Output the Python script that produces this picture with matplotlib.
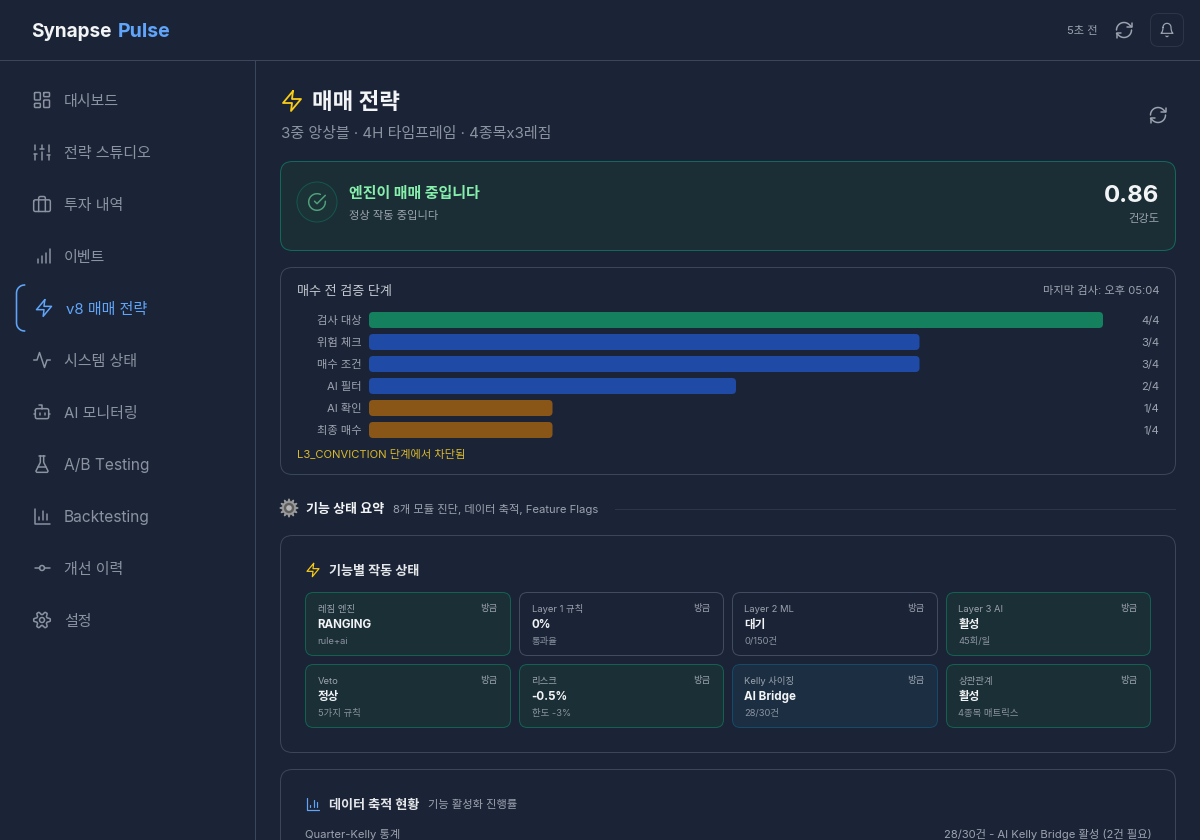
import numpy as np
import matplotlib
matplotlib.use("Agg")
import matplotlib.pyplot as plt
from matplotlib.patches import Circle, FancyBboxPatch, Polygon

plt.rcParams['font.family'] = ['Inter', 'Noto Sans CJK KR', 'DejaVu Sans']
plt.rcParams['text.kerning_factor'] = 6

# colours
BG = "#1b2436"
LINE = "#3a465b"
WHITE = "#f3f4f6"
SOFT = "#c4c8d0"
GRAY = "#9ca3af"
MUTED = "#8b93a1"
YELLOW = "#facc15"
BLUE = "#60a5fa"

# sidebar
nav_labels = ["대시보드", "전략 스튜디오", "투자 내역", "이벤트", "v8 매매 전략", "시스템 상태",
              "AI 모니터링", "A/B Testing", "Backtesting", "개선 이력", "설정"]
nav_icons = ["dash", "sliders", "case", "signal", "zap", "activity",
             "bot", "flask", "chart", "commit", "cog"]
active_nav = 4

# pipeline bars
stage_labels = ["검사 대상", "위험 체크", "매수 조건", "AI 필터", "AI 확인", "최종 매수"]
stage_passed = [4, 3, 3, 2, 1, 1]
stage_total = 4
stage_colors = ["#14805e", "#1f4aa6", "#1f4aa6", "#1f4aa6", "#8a5618", "#8a5618"]

# feature cards
feature_names = ["레짐 엔진", "Layer 1 규칙", "Layer 2 ML", "Layer 3 AI",
                 "Veto", "리스크", "Kelly 사이징", "상관관계"]
feature_values = ["RANGING", "0%", "대기", "활성", "정상", "-0.5%", "AI Bridge", "활성"]
feature_notes = ["rule+ai", "통과율", "0/150건", "45회/일", "5가지 규칙", "한도 -3%", "28/30건", "4종목 매트릭스"]
feature_states = ["ok", "idle", "idle", "ok", "ok", "ok", "info", "ok"]
state_styles = {
    "ok": ("#1b2f36", "#14614f"),
    "idle": ("#1b2436", "#414c61"),
    "info": ("#1b2e42", "#17496a"),
}

fig = plt.figure(figsize=(12, 8.4), dpi=100, facecolor=BG)
canvas = fig.add_axes([0, 0, 1, 1])
canvas.set_xlim(0, 1200)
canvas.set_ylim(840, 0)
canvas.axis("off")

PX = 0.72  # one screen pixel in points
SMALL = 11.25  # page root is 15 px, so .75rem
LABEL = 13.125
TINY = 9.375


def label(x, y, s, size, color=GRAY, weight="normal", ha="left"):
    # y is the text baseline, size is in screen pixels
    canvas.text(x, y, s, fontsize=size * PX, color=color, fontweight=weight, ha=ha, va="baseline")


def card(x0, y0, x1, y1, r, face, edge, lw=1.0, z=1):
    canvas.add_patch(FancyBboxPatch((x0 + r, y0 + r), x1 - x0 - 2 * r, y1 - y0 - 2 * r,
                                    boxstyle=f"round,pad={r},rounding_size={r}",
                                    facecolor=face, edgecolor=edge, linewidth=lw * PX, zorder=z))


def arc(cx, cy, r, a0, a1, n=24):
    a = np.radians(np.linspace(a0, a1, n))
    return list(zip(cx + r * np.cos(a), cy + r * np.sin(a)))


def round_rect(x, y, w, h, r):
    return (arc(x + r, y + r, r, 180, 270, 6) + arc(x + w - r, y + r, r, 270, 360, 6)
            + arc(x + w - r, y + h - r, r, 0, 90, 6) + arc(x + r, y + h - r, r, 90, 180, 6)
            + [(x, y + r)])


def cog_outline():
    a = np.linspace(0, 2 * np.pi, 160) + np.pi / 2
    r = 8.3 + 1.7 * np.clip(1.5 * np.cos(6 * a), -1, 1)
    return list(zip(12 + r * np.cos(a), 12 + r * np.sin(a)))


# icon strokes on a 24 unit grid
ZAP = [[(13, 2), (3, 14), (12, 14), (11, 22), (21, 10), (12, 10), (13, 2)]]
ICONS = {
    "dash": [round_rect(3, 3, 7, 9, 1), round_rect(14, 3, 7, 5, 1),
             round_rect(14, 12, 7, 9, 1), round_rect(3, 16, 7, 5, 1)],
    "sliders": [[(4, 21), (4, 14)], [(4, 10), (4, 3)], [(12, 21), (12, 12)], [(12, 8), (12, 3)],
                [(20, 21), (20, 16)], [(20, 12), (20, 3)], [(2, 14), (6, 14)],
                [(10, 8), (14, 8)], [(18, 16), (22, 16)]],
    "case": [round_rect(2, 7, 20, 14, 2),
             [(16, 21), (16, 5)] + arc(14, 5, 2, 0, -90, 6) + arc(10, 5, 2, -90, -180, 6) + [(8, 21)]],
    "signal": [[(2, 20), (2.01, 20)], [(7, 20), (7, 16)], [(12, 20), (12, 12)],
               [(17, 20), (17, 8)], [(22, 4), (22, 20)]],
    "zap": ZAP,
    "activity": [[(22, 12), (18, 12), (15, 21), (9, 3), (6, 12), (2, 12)]],
    "bot": [[(12, 8), (12, 4), (8, 4)], round_rect(4, 8, 16, 12, 2), [(2, 14), (4, 14)],
            [(20, 14), (22, 14)], [(15, 13), (15, 15)], [(9, 13), (9, 15)]],
    "flask": [[(10, 2), (10, 9.5), (9.8, 10.4), (4.7, 20.5), (5.6, 22), (18.4, 22),
               (19.3, 20.5), (14.2, 10.4), (14, 9.5), (14, 2)], [(8.5, 2), (15.5, 2)], [(7, 16), (17, 16)]],
    "chart": [[(3, 3), (3, 21), (21, 21)],
              [(18, 17), (18, 9)], [(13, 17), (13, 6)], [(8, 17), (8, 13)]],
    "commit": [arc(12, 12, 3, 0, 360), [(3, 12), (9, 12)], [(15, 12), (21, 12)]],
    "cog": [cog_outline(), arc(12, 12, 3, 0, 360)],
    "refresh": [arc(12, 12, 9, 180, 317) + [(21, 8)], [(21, 3), (21, 8), (16, 8)],
                arc(12, 12, 9, 0, 137) + [(3, 16)], [(8, 16), (3, 16), (3, 21)]],
    "bell": [arc(12, 8, 6, 180, 360) + [(18.2, 11), (18.8, 13.5), (19.8, 15.8), (21, 17), (3, 17),
                                        (4.2, 15.8), (5.2, 13.5), (5.8, 11), (6, 8)],
             [(10.3, 21), (11.2, 21.8), (12, 22), (12.8, 21.8), (13.7, 21)]],
    "check": [[(22, 11.08)] + arc(12, 12, 10, 0, 294), [(22, 4), (12, 14.01), (9, 11.01)]],
}


def icon(name, cx, cy, size, color, width=1.8):
    k = size / 24
    for stroke in ICONS[name]:
        pts = np.array(stroke)
        canvas.plot(cx + (pts[:, 0] - 12) * k, cy + (pts[:, 1] - 12) * k, color=color,
                    linewidth=width * k * PX, solid_capstyle="round", solid_joinstyle="round", zorder=5)


# header
canvas.plot([0, 1200], [60.2, 60.2], color=LINE, linewidth=PX)
canvas.plot([255.2, 255.2], [60, 840], color=LINE, linewidth=PX)
label(31.5, 37, "Synapse", 19, WHITE, "bold")
label(118, 37, "Pulse", 19.5, BLUE, "bold")
label(1067, 34, "5초 전", SMALL, GRAY)
icon("refresh", 1124, 30, 20, GRAY)
card(1150.5, 13.5, 1183.5, 46.5, 8, BG, "#2c3648")
icon("bell", 1167, 30, 16, GRAY)

# sidebar
for i, (name, ic) in enumerate(zip(nav_labels, nav_icons)):
    y = 100 + 52 * i
    size = 15.5 if name.isascii() else 15
    if i == active_nav:
        canvas.plot(*zip(*(arc(24.5, y - 15, 8, 270, 180, 8) + arc(24.5, y + 15, 8, 180, 90, 8))),
                    color=BLUE, linewidth=1.6 * PX)
        icon(ic, 44, y, 20, BLUE)
        label(66, y + 6, name, size, BLUE)
    else:
        icon(ic, 42, y, 20, MUTED)
        label(64, y + 6, name, size, MUTED)

# page title
icon("zap", 292, 101, 24, YELLOW)
label(312, 109, "매매 전략", 22.5, WHITE, "bold")
label(281, 138, "3중 앙상블 · 4H 타임프레임 · 4종목x3레짐", 15, MUTED)
icon("refresh", 1158, 115, 20, GRAY)

# engine status card
card(280.5, 161.5, 1175.5, 250.5, 12, "#1b2e36", "#12695a")
canvas.add_patch(Circle((317, 202), 20, facecolor="#1b3236", edgecolor="#14574d", linewidth=PX, zorder=2))
icon("check", 317, 202, 20, "#4f9f7c")
label(349, 198, "엔진이 매매 중입니다", 15, "#86efac", "bold")
label(349, 219, "정상 작동 중입니다", SMALL, GRAY)
label(1159.5, 202, "0.86", 24, WHITE, "bold", ha="right")
label(1159.5, 222, "건강도", SMALL, GRAY, ha="right")

# pipeline card
card(280.5, 267.5, 1175.5, 474.5, 12, BG, LINE)
label(297, 295, "매수 전 검증 단계", LABEL, SOFT)
label(1159.5, 294, "마지막 검사: 오후 05:04", SMALL, GRAY, ha="right")

bar_left, bar_width = 369, 734
bar_top, row_h, bar_h = 309, 22, 16
ax = fig.add_axes([bar_left / 1200, 1 - (bar_top + row_h * len(stage_labels)) / 840,
                   bar_width / 1200, row_h * len(stage_labels) / 840])
ax.patch.set_alpha(0)
rows = np.arange(len(stage_labels))
bars = ax.barh(rows, stage_passed, height=bar_h / row_h, color=stage_colors)
ax.set_xlim(0, stage_total)
ax.set_ylim(len(stage_labels) - 0.5, -0.5)
ax.set_xticks([])
ax.set_yticks(rows, stage_labels, fontsize=SMALL * PX, color=GRAY)
ax.tick_params(axis="y", length=0, pad=7.5 * PX)
for s in ax.spines.values():
    s.set_visible(False)
# round the bar corners, 4 px radius
x_per_px = stage_total / bar_width
y_per_px = 1 / row_h
for bar, color in zip(bars, stage_colors):
    bar.set_visible(False)
    r = 4 * x_per_px
    aspect = y_per_px / x_per_px
    ax.add_patch(FancyBboxPatch((bar.get_x() + r, bar.get_y() + 4 * y_per_px),
                                bar.get_width() - 2 * r, bar.get_height() - 8 * y_per_px,
                                boxstyle=f"round,pad={r},rounding_size={r}", mutation_aspect=aspect,
                                facecolor=color, edgecolor="none"))
for i, v in enumerate(stage_passed):
    label(1159.5, 324 + row_h * i, f"{v}/{stage_total}", SMALL, GRAY, ha="right")
label(297, 458, "L3_CONVICTION 단계에서 차단됨", SMALL, "#d9b92e")

# section heading
a = np.linspace(0, 2 * np.pi, 97)
gear_r = 8.2 + 1.2 * np.clip(2 * np.cos(12 * a), -1, 1)
canvas.add_patch(Polygon(np.c_[289 + gear_r * np.cos(a), 508 + gear_r * np.sin(a)],
                         facecolor="#9a9a9a", edgecolor="none", zorder=3))
canvas.add_patch(Circle((289, 508), 5.2, facecolor="#5e5e5e", zorder=4))
canvas.add_patch(Circle((289, 508), 2.8, facecolor="#b5b5b5", zorder=5))
label(306, 513, "기능 상태 요약", 13, WHITE, "bold")
label(393, 513, "8개 모듈 진단, 데이터 축적, Feature Flags", SMALL, GRAY)
canvas.plot([615, 1175], [509.2, 509.2], color="#2c3648", linewidth=PX)

# feature card
card(280.5, 535.5, 1175.5, 752.5, 12, BG, LINE)
icon("zap", 313, 570, 16, YELLOW)
label(329, 575, "기능별 작동 상태", LABEL, "#e5e7eb", "bold")

col_x = [(305.5, 510.5), (519.5, 723.5), (732.5, 937.5), (946.5, 1150.5)]
row_y = [592.5, 664.5]
for i in range(len(feature_names)):
    x0, x1 = col_x[i % 4]
    y0 = row_y[i // 4]
    face, edge = state_styles[feature_states[i]]
    card(x0, y0, x1, y0 + 63, 8, face, edge)
    label(x0 + 12, y0 + 19.5, feature_names[i], TINY, GRAY)
    label(x1 - 13, y0 + 18.5, "방금", TINY, GRAY, ha="right")
    label(x0 + 12, y0 + 35.5, feature_values[i], 11.6, WHITE, "bold")
    label(x0 + 12, y0 + 51.5, feature_notes[i], TINY, MUTED)

# data card, runs off the bottom of the page
card(280.5, 769.5, 1175.5, 880, 12, BG, LINE)
icon("chart", 313, 804, 16, BLUE)
label(329, 809, "데이터 축적 현황", LABEL, "#e5e7eb", "bold")
label(428, 808, "기능 활성화 진행률", SMALL, GRAY)
label(305, 838, "Quarter-Kelly 통계", SMALL, GRAY)
label(1151.5, 838, "28/30건 - AI Kelly Bridge 활성 (2건 필요)", SMALL, GRAY, ha="right")

fig.savefig("out.png", dpi=100, facecolor=BG)
